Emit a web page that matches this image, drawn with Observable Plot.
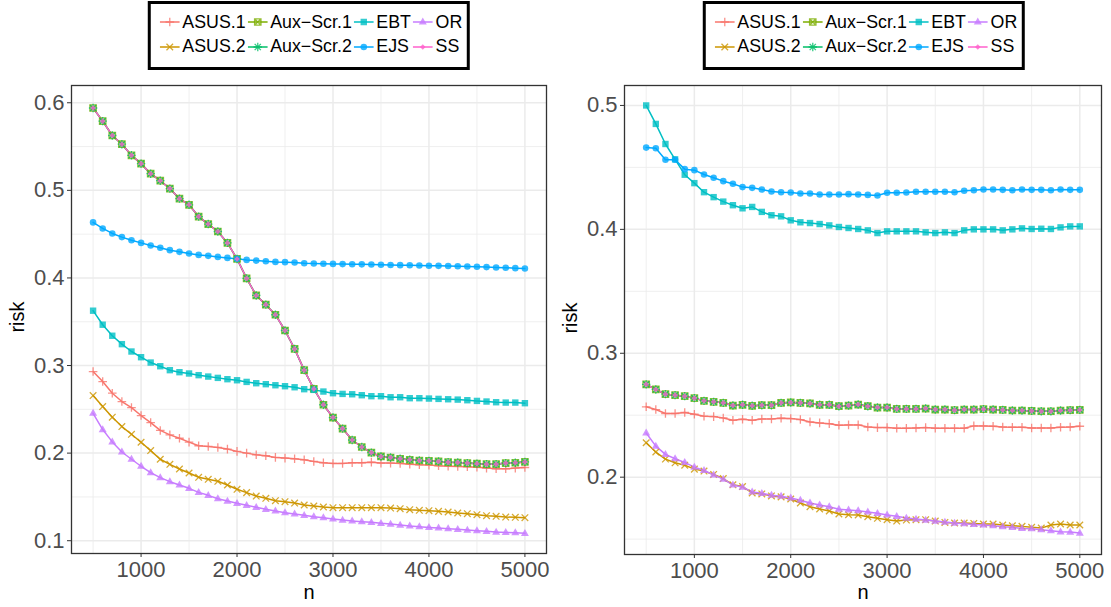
<!DOCTYPE html>
<html><head><meta charset="utf-8">
<script src="https://cdn.jsdelivr.net/npm/d3@7"></script>
<script src="https://cdn.jsdelivr.net/npm/@observablehq/plot@0.6"></script>
<style>
body{margin:0;width:1111px;height:607px;position:relative;overflow:hidden;background:#fff;font-family:"Liberation Sans",Arial,Helvetica,sans-serif;}
.panel{position:absolute;top:75px;}
.legend{position:absolute;top:1px;height:69px;box-sizing:border-box;border:3px solid #000;display:grid;grid-auto-flow:column;grid-template-rows:repeat(2,24.6px);padding:6px 3px 0 9px;font-size:17.8px;color:#000;transform:translateX(-50%);background:#fff;}
.item{display:flex;align-items:center;white-space:nowrap;margin-right:2px}
.item svg{margin-right:2.6px;flex:none}
.ytitle{position:absolute;font-size:20px;line-height:1;transform:translate(-50%,-50%) rotate(-90deg);white-space:nowrap;color:#000}
.xtitle{position:absolute;font-size:20px;line-height:1;transform:translateX(-50%);color:#000}
</style></head><body>
<script>
// ---------- data ----------
const nValues = [500,600,700,800,900,1000,1100,1200,1300,1400,1500,1600,1700,1800,1900,2000,2100,2200,2300,2400,2500,2600,2700,2800,2900,3000,3100,3200,3300,3400,3500,3600,3700,3800,3900,4000,4100,4200,4300,4400,4500,4600,4700,4800,4900,5000];
const methods = ["ASUS.1","ASUS.2","Aux\u2212Scr.1","Aux\u2212Scr.2","EBT","EJS","OR","SS"];
const colors = ["#F8766D","#CD9600","#7CAE00","#00BE67","#00BFC4","#00A9FF","#C77CFF","#FF61CC"];
const xTicks = [1000,2000,3000,4000,5000];
const xMinorTicks = [500,1500,2500,3500,4500];
const yTicksLeft = [0.1,0.2,0.3,0.4,0.5,0.6];
const yMinorLeft = [0.15,0.25,0.35,0.45,0.55];
const yTicksRight = [0.2,0.3,0.4,0.5];
const yMinorRight = [0.15,0.25,0.35,0.45];

// left panel
const asus1Left = [.2931,.2817,.2684,.2589,.2520,.2429,.2349,.2259,.2208,.2170,.2126,.2084,.2076,.2065,.2046,.2020,.2000,.1981,.1970,.1951,.1943,.1935,.1924,.1905,.1890,.1882,.1882,.1890,.1890,.1897,.1886,.1886,.1882,.1874,.1867,.1863,.1855,.1851,.1848,.1844,.1840,.1829,.1821,.1821,.1829,.1836];
const asus2Left = [.2657,.2531,.2410,.2303,.2215,.2124,.2029,.1930,.1872,.1819,.1773,.1724,.1701,.1678,.1636,.1587,.1549,.1510,.1484,.1457,.1446,.1430,.1408,.1396,.1385,.1377,.1377,.1377,.1377,.1377,.1377,.1373,.1366,.1354,.1347,.1343,.1335,.1328,.1316,.1309,.1297,.1286,.1278,.1270,.1267,.1263];
const auxScr1Left = [.5940,.5790,.5626,.5527,.5400,.5305,.5190,.5110,.5020,.4905,.4835,.4700,.4615,.4530,.4400,.4217,.3995,.3800,.3695,.3580,.3400,.3190,.2947,.2733,.2552,.2406,.2280,.2150,.2070,.2006,.1962,.1950,.1935,.1924,.1916,.1912,.1905,.1897,.1893,.1886,.1880,.1874,.1874,.1886,.1890,.1900];
const auxScr2Left = [.5940,.5790,.5626,.5527,.5400,.5305,.5190,.5110,.5020,.4905,.4835,.4700,.4615,.4530,.4400,.4217,.3995,.3800,.3695,.3580,.3400,.3190,.2947,.2733,.2552,.2406,.2280,.2150,.2070,.2006,.1962,.1950,.1935,.1924,.1916,.1912,.1905,.1897,.1893,.1886,.1880,.1874,.1874,.1886,.1890,.1900];
const ebtLeft = [.3626,.3466,.3340,.3244,.3160,.3095,.3034,.2992,.2947,.2924,.2909,.2890,.2874,.2859,.2844,.2832,.2813,.2798,.2787,.2775,.2764,.2752,.2730,.2722,.2703,.2684,.2676,.2672,.2661,.2650,.2650,.2638,.2638,.2627,.2627,.2623,.2619,.2615,.2611,.2604,.2596,.2589,.2581,.2577,.2577,.2570];
const ejsLeft = [.4634,.4565,.4508,.4466,.4431,.4400,.4370,.4344,.4317,.4298,.4279,.4263,.4252,.4240,.4229,.4218,.4206,.4198,.4191,.4183,.4180,.4176,.4168,.4164,.4162,.4160,.4158,.4156,.4155,.4153,.4150,.4148,.4146,.4144,.4142,.4140,.4138,.4136,.4133,.4130,.4127,.4124,.4120,.4116,.4112,.4108];
const orLeft = [.2455,.2269,.2128,.2013,.1930,.1850,.1777,.1720,.1674,.1636,.1598,.1552,.1518,.1480,.1453,.1427,.1404,.1381,.1358,.1339,.1320,.1305,.1290,.1274,.1263,.1248,.1236,.1225,.1217,.1210,.1198,.1190,.1179,.1168,.1160,.1152,.1145,.1137,.1130,.1122,.1114,.1107,.1099,.1095,.1091,.1084];
const ssLeft = [.5940,.5790,.5626,.5527,.5400,.5305,.5190,.5110,.5020,.4905,.4835,.4700,.4615,.4530,.4400,.4217,.3995,.3800,.3695,.3580,.3400,.3190,.2947,.2733,.2552,.2406,.2280,.2150,.2070,.2006,.1962,.1950,.1935,.1924,.1916,.1912,.1905,.1897,.1893,.1886,.1880,.1874,.1874,.1886,.1890,.1900];

// right panel
const asus1Right = [.2568,.2546,.2514,.2514,.2522,.2508,.2492,.2489,.2478,.2459,.2468,.2459,.2470,.2470,.2476,.2473,.2465,.2446,.2438,.2432,.2419,.2422,.2422,.2405,.2400,.2400,.2395,.2395,.2397,.2400,.2395,.2395,.2395,.2395,.2414,.2414,.2411,.2405,.2403,.2403,.2397,.2397,.2397,.2403,.2405,.2411];
const asus2Right = [.2278,.2203,.2146,.2116,.2097,.2065,.2049,.2022,.1989,.1938,.1924,.1873,.1865,.1849,.1841,.1824,.1792,.1762,.1743,.1727,.1703,.1697,.1695,.1681,.1668,.1657,.1646,.1654,.1657,.1657,.1646,.1635,.1630,.1630,.1627,.1622,.1622,.1614,.1608,.1603,.1595,.1589,.1614,.1622,.1614,.1614];
const auxScr1Right = [.2749,.2708,.2670,.2662,.2654,.2638,.2616,.2608,.2600,.2578,.2584,.2576,.2581,.2581,.2600,.2603,.2600,.2595,.2584,.2584,.2573,.2578,.2586,.2573,.2562,.2562,.2551,.2551,.2551,.2554,.2546,.2546,.2541,.2546,.2546,.2549,.2546,.2543,.2538,.2538,.2535,.2532,.2532,.2538,.2541,.2543];
const auxScr2Right = [.2749,.2708,.2670,.2662,.2654,.2638,.2616,.2608,.2600,.2578,.2584,.2576,.2581,.2581,.2600,.2603,.2600,.2595,.2584,.2584,.2573,.2578,.2586,.2573,.2562,.2562,.2551,.2551,.2551,.2554,.2546,.2546,.2541,.2546,.2546,.2549,.2546,.2543,.2538,.2538,.2535,.2532,.2532,.2538,.2541,.2543];
const ebtRight = [.5000,.4851,.4689,.4565,.4441,.4373,.4300,.4260,.4224,.4195,.4170,.4181,.4141,.4114,.4105,.4073,.4057,.4051,.4043,.4032,.4019,.4011,.4003,.3992,.3970,.3984,.3984,.3984,.3984,.3976,.3970,.3976,.3970,.3992,.4000,.4000,.4000,.3992,.4000,.4008,.4003,.4005,.4003,.4016,.4024,.4024];
const ejsRight = [.4660,.4654,.4562,.4562,.4486,.4478,.4443,.4416,.4389,.4368,.4341,.4335,.4322,.4305,.4300,.4297,.4289,.4289,.4281,.4281,.4281,.4284,.4281,.4278,.4273,.4295,.4295,.4297,.4303,.4303,.4303,.4303,.4300,.4311,.4316,.4322,.4322,.4319,.4316,.4322,.4319,.4319,.4316,.4322,.4319,.4319];
const orRight = [.2357,.2251,.2184,.2149,.2119,.2081,.2054,.2019,.1984,.1938,.1919,.1881,.1870,.1854,.1846,.1832,.1814,.1792,.1776,.1762,.1741,.1735,.1730,.1719,.1708,.1695,.1684,.1670,.1662,.1654,.1646,.1638,.1630,.1624,.1619,.1614,.1608,.1600,.1595,.1586,.1584,.1576,.1568,.1559,.1557,.1549];
const ssRight = [.2749,.2708,.2670,.2662,.2654,.2638,.2616,.2608,.2600,.2578,.2584,.2576,.2581,.2581,.2600,.2603,.2600,.2595,.2584,.2584,.2573,.2578,.2586,.2573,.2562,.2562,.2551,.2551,.2551,.2554,.2546,.2546,.2541,.2546,.2546,.2549,.2546,.2543,.2538,.2538,.2535,.2532,.2532,.2538,.2541,.2543];

const leftSeries = [asus1Left, asus2Left, auxScr1Left, auxScr2Left, ebtLeft, ejsLeft, orLeft, ssLeft];
const rightSeries = [asus1Right, asus2Right, auxScr1Right, auxScr2Right, ebtRight, ejsRight, orRight, ssRight];

// ---------- symbols (ggplot shapes 3,4,7,8,15,16,17,18) ----------
const shapes = [
  {filled:false, draw(c){const a=4.3;c.moveTo(-a,0);c.lineTo(a,0);c.moveTo(0,-a);c.lineTo(0,a);}},
  {filled:false, draw(c){const a=3.3;c.moveTo(-a,-a);c.lineTo(a,a);c.moveTo(-a,a);c.lineTo(a,-a);}},
  {filled:false, draw(c){const a=3.2;c.moveTo(-a,-a);c.lineTo(a,-a);c.lineTo(a,a);c.lineTo(-a,a);c.closePath();c.moveTo(-a,-a);c.lineTo(a,a);c.moveTo(-a,a);c.lineTo(a,-a);}},
  {filled:false, draw(c){const a=4.2,b=3.1;c.moveTo(-a,0);c.lineTo(a,0);c.moveTo(0,-a);c.lineTo(0,a);c.moveTo(-b,-b);c.lineTo(b,b);c.moveTo(-b,b);c.lineTo(b,-b);}},
  {filled:true, draw(c){const a=3.2;c.moveTo(-a,-a);c.lineTo(a,-a);c.lineTo(a,a);c.lineTo(-a,a);c.closePath();}},
  {filled:true, draw(c){const r=3.3;c.moveTo(r,0);c.arc(0,0,r,0,2*Math.PI);c.closePath();}},
  {filled:true, draw(c){c.moveTo(0,-4.4);c.lineTo(4.0,2.6);c.lineTo(-4.0,2.6);c.closePath();}},
  {filled:true, draw(c){const a=2.8;c.moveTo(0,-a);c.lineTo(a,0);c.lineTo(0,a);c.lineTo(-a,0);c.closePath();}}
];
const pointOpacity = 0.8;

function buildTable(series){
  const rows = [];
  series.forEach((vals, i) => vals.forEach((v, j) => rows.push({n: nValues[j], risk: v, method: methods[i]})));
  return rows;
}

function makePanel(series, yDomain, yMajor, yMinor, opts){
  const table = buildTable(series);
  const grid = "#EBEBEB";
  const marks = [
    Plot.gridX({ticks: xMinorTicks, stroke: grid, strokeOpacity: 1, strokeWidth: 0.8}),
    Plot.gridY({ticks: yMinor, stroke: grid, strokeOpacity: 1, strokeWidth: 0.8}),
    Plot.gridX({ticks: xTicks, stroke: grid, strokeOpacity: 1, strokeWidth: 1.5}),
    Plot.gridY({ticks: yMajor, stroke: grid, strokeOpacity: 1, strokeWidth: 1.5})
  ];
  methods.forEach((m, i) => {
    marks.push(Plot.line(table.filter(d => d.method === m), {x: "n", y: "risk", stroke: colors[i], strokeWidth: 1.5}));
  });
  methods.forEach((m, i) => {
    const s = shapes[i];
    marks.push(Plot.dot(table.filter(d => d.method === m), {
      x: "n", y: "risk", symbol: s, r: 3,
      fill: s.filled ? colors[i] : "none",
      stroke: s.filled ? "none" : colors[i],
      strokeWidth: 1.3,
      fillOpacity: pointOpacity, strokeOpacity: pointOpacity
    }));
  });
  marks.push(Plot.frame({stroke: "#333333", strokeWidth: 1.3}));
  marks.push(Plot.axisX({ticks: xTicks, tickSize: 4, tickPadding: 4, fontSize: 22, fill: "#4D4D4D", stroke: "#333333", tickFormat: d3.format("d"), label: null}));
  marks.push(Plot.axisY({ticks: yMajor, tickSize: 4, tickPadding: 3, fontSize: 22, fill: "#4D4D4D", stroke: "#333333", tickFormat: d3.format(".1f"), label: null}));
  return Plot.plot({
    width: opts.width, height: 532,
    marginLeft: opts.ml, marginRight: opts.mr, marginTop: 10, marginBottom: opts.mb,
    x: {domain: [275, 5225]},
    y: {domain: yDomain},
    style: {fontFamily: '"Liberation Sans", Arial, Helvetica, sans-serif', background: "#fff", overflow: "visible"},
    marks
  });
}

function addPanel(el, left){
  el.classList.add("panel");
  el.style.left = left + "px";
  document.body.appendChild(el);
}

addPanel(makePanel(leftSeries, [0.0854, 0.6197], yTicksLeft, yMinorLeft, {width: 555, ml: 71, mr: 9, mb: 54}), 0);
addPanel(makePanel(rightSeries, [0.1376, 0.5161], yTicksRight, yMinorRight, {width: 556, ml: 69, mr: 10, mb: 53}), 555);

function legend(centerX){
  const box = document.createElement("div");
  box.className = "legend";
  box.style.left = centerX + "px";
  methods.forEach((m, i) => {
    const item = document.createElement("div");
    item.className = "item";
    const svg = d3.create("svg").attr("width", 20).attr("height", 20);
    svg.append("line").attr("x1", 0).attr("x2", 20).attr("y1", 10).attr("y2", 10).attr("stroke", colors[i]).attr("stroke-width", 1.5);
    const p = d3.path(); shapes[i].draw(p);
    const s = shapes[i];
    svg.append("path").attr("d", p.toString()).attr("transform", "translate(10,10)")
      .attr("fill", s.filled ? colors[i] : "none").attr("stroke", s.filled ? "none" : colors[i])
      .attr("stroke-width", 1.3).attr("opacity", pointOpacity);
    item.appendChild(svg.node());
    const t = document.createElement("span"); t.textContent = m;
    item.appendChild(t);
    box.appendChild(item);
  });
  document.body.appendChild(box);
}
legend(309);
legend(864);

function title(cls, text, x, y){
  const d = document.createElement("div");
  d.className = cls; d.textContent = text;
  d.style.left = x + "px"; d.style.top = y + "px";
  document.body.appendChild(d);
}
title("ytitle", "risk", 17, 317);
title("ytitle", "risk", 570, 318);
title("xtitle", "n", 309, 582);
title("xtitle", "n", 863, 582);
</script>
</body></html>
